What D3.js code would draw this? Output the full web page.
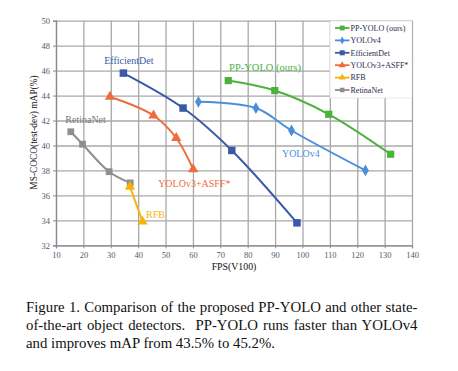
<!DOCTYPE html>
<html>
<head>
<meta charset="utf-8">
<script src="https://cdn.jsdelivr.net/npm/d3@7"></script>
<style>
  body { margin: 0; background: #fff; }
  svg text { font-family: "Liberation Serif", "DejaVu Serif", serif; }
  .tick text { fill: #4f5a72; font-size: 8.5px; }
  .grid line { stroke: #a8a8a8; stroke-width: 1.3; }
  .grid .domain { stroke: none; }
</style>
</head>
<body>
<svg id="chart" width="458" height="371"></svg>
<script>
// data: [FPS, mAP]
var ppyolo = [[72.9, 45.2], [89.9, 44.4], [109.6, 42.5], [132.2, 39.3]];
var yolov4 = [[62, 43.5], [83, 43.0], [96, 41.2], [123, 38.0]];
var efficientdet = [[34.6, 45.8], [56.4, 43.0], [74.2, 39.6], [98, 33.8]];
var asff = [[29.7, 43.9], [45.6, 42.4], [53.9, 40.6], [60.1, 38.1]];
var rfb = [[37, 36.7], [41.6, 33.9]];
var retinanet = [[15.4, 41.1], [19.7, 40.1], [29.4, 37.9], [37.1, 37.0]];

var xTicks = [10, 20, 30, 40, 50, 60, 70, 80, 90, 100, 110, 120, 130, 140];
var yTicks = [32, 34, 36, 38, 40, 42, 44, 46, 48, 50];

var series = [
  {name: 'PP-YOLO (ours)', data: ppyolo, color: '#4cb23c', symbol: d3.symbolSquare, size: 52},
  {name: 'YOLOv4', data: yolov4, color: '#4a8fdc', symbol: d3.symbolDiamond, size: 40},
  {name: 'EfficientDet', data: efficientdet, color: '#3a5aa8', symbol: d3.symbolSquare, size: 56},
  {name: 'YOLOv3+ASFF*', data: asff, color: '#ee6c3b', symbol: d3.symbolTriangle, size: 46},
  {name: 'RFB', data: rfb, color: '#f7b30c', symbol: d3.symbolTriangle, size: 46},
  {name: 'RetinaNet', data: retinanet, color: '#8e8e8e', symbol: d3.symbolSquare, size: 46}
];

// labels next to the curves, placed in data units
var labels = [
  {text: 'PP-YOLO (ours)', at: [73.2, 46.0], color: '#4cb23c', size: 10.5},
  {text: 'YOLOv4', at: [92.5, 39.1], color: '#4a8fdc', size: 10},
  {text: 'EfficientDet', at: [27.6, 46.5], color: '#3a5aa8', size: 10},
  {text: 'YOLOv3+ASFF*', at: [47.3, 36.7], color: '#ee6c3b', size: 10},
  {text: 'RFB', at: [42.9, 34.2], color: '#f7b30c', size: 10},
  {text: 'RetinaNet', at: [13.4, 41.8], color: '#7a7a7a', size: 10}
];

var svg = d3.select('#chart');
var plotLeft = 56, plotRight = 412, plotTop = 20.7, plotBottom = 245.3;

var x = d3.scaleLinear().domain([10, 140]).range([plotLeft, plotRight]);
var y = d3.scaleLinear().domain([32, 50]).range([plotBottom, plotTop]);

///////////////////////////////////////////////////////////////
// grid + axes
///////////////////////////////////////////////////////////////
svg.append('g')
  .attr('class', 'grid')
  .attr('transform', 'translate(0,' + plotBottom + ')')
  .call(d3.axisBottom(x).tickValues(xTicks).tickSize(-(plotBottom - plotTop)).tickFormat(''));

svg.append('g')
  .attr('class', 'grid')
  .attr('transform', 'translate(' + plotLeft + ',0)')
  .call(d3.axisLeft(y).tickValues(yTicks).tickSize(-(plotRight - plotLeft)).tickFormat(''));

var xAxis = svg.append('g')
  .attr('transform', 'translate(0,' + plotBottom + ')')
  .call(d3.axisBottom(x).tickValues(xTicks).tickSize(3).tickPadding(4));

var yAxis = svg.append('g')
  .attr('transform', 'translate(' + plotLeft + ',0)')
  .call(d3.axisLeft(y).tickValues(yTicks).tickSize(3).tickPadding(3));

[xAxis, yAxis].forEach(function (g) {
  g.select('.domain').attr('stroke', '#8a8a8a').attr('stroke-width', 1.3);
  g.selectAll('.tick line').attr('stroke', '#8a8a8a');
  g.selectAll('.tick text').style('font-family', '"Liberation Serif", serif');
});

svg.append('text')
  .attr('x', 234)
  .attr('y', 270)
  .attr('text-anchor', 'middle')
  .style('font-size', '9.8px')
  .attr('fill', '#111')
  .text('FPS(V100)');

svg.append('text')
  .attr('transform', 'translate(37,132.5) rotate(-90)')
  .attr('text-anchor', 'middle')
  .style('font-size', '9.4px')
  .attr('fill', '#111')
  .text('MS-COCO(test-dev) mAP(%)');

///////////////////////////////////////////////////////////////
// lines + markers
///////////////////////////////////////////////////////////////
var line = d3.line()
  .x(d => x(d[0]))
  .y(d => y(d[1]))
  .curve(d3.curveCatmullRom.alpha(0.5));

// draw back to front so PP-YOLO ends on top
series.slice().reverse().forEach(function (s) {
  svg.append('path')
    .datum(s.data)
    .attr('fill', 'none')
    .attr('stroke', s.color)
    .attr('stroke-width', 2)
    .attr('d', line);

  svg.selectAll(null)
    .data(s.data)
    .enter()
    .append('path')
    .attr('transform', d => 'translate(' + x(d[0]) + ',' + y(d[1]) + ')')
    .attr('d', d3.symbol().type(s.symbol).size(s.size))
    .attr('fill', s.color);
});

svg.selectAll('.series-label')
  .data(labels)
  .enter()
  .append('text')
  .attr('class', 'series-label')
  .attr('x', d => x(d.at[0]))
  .attr('y', d => y(d.at[1]))
  .attr('fill', d => d.color)
  .style('font-size', d => d.size + 'px')
  .text(d => d.text);

///////////////////////////////////////////////////////////////
// legend
///////////////////////////////////////////////////////////////
var legend = svg.append('g').attr('transform', 'translate(330,21)');
legend.append('rect')
  .attr('width', 82)
  .attr('height', 77)
  .attr('fill', '#fff')
  .attr('stroke', '#d9d9d9')
  .attr('stroke-width', 0.6);

var item = legend.selectAll('.item')
  .data(series)
  .enter()
  .append('g')
  .attr('class', 'item')
  .attr('transform', (d, i) => 'translate(0,' + (7 + i * 12.4) + ')');

item.append('line')
  .attr('x1', 5).attr('x2', 19.5)
  .attr('stroke', d => d.color)
  .attr('stroke-width', 1.8);

item.append('path')
  .attr('transform', 'translate(12.2,0)')
  .attr('d', d => d3.symbol().type(d.symbol).size(d.size * 0.45)())
  .attr('fill', d => d.color);

item.append('text')
  .attr('x', 20.5)
  .attr('dy', '0.35em')
  .attr('fill', '#2b2b4a')
  .style('font-size', '8px')
  .text(d => d.name);

///////////////////////////////////////////////////////////////
// caption (first two lines justified by widening the spaces)
///////////////////////////////////////////////////////////////
var caption = [
  {text: 'Figure 1. Comparison of the proposed PP-YOLO and other state-', justify: true},
  {text: 'of-the-art object detectors.  PP-YOLO runs faster than YOLOv4', justify: true},
  {text: 'and improves mAP from 43.5% to 45.2%.', justify: false}
];
var captionWidth = 391.5;

svg.selectAll('.caption')
  .data(caption)
  .enter()
  .append('text')
  .attr('class', 'caption')
  .attr('x', 26)
  .attr('y', (d, i) => 311.5 + i * 18.3)
  .attr('fill', '#111')
  .style('font-size', '14.8px')
  .style('white-space', 'pre')
  .text(d => d.text)
  .each(function (d) {
    if (!d.justify) return;
    var len = this.getComputedTextLength();
    var spaces = d.text.split(' ').length - 1;
    d3.select(this).style('word-spacing', ((captionWidth - len) / spaces) + 'px');
  });
</script>
</body>
</html>
